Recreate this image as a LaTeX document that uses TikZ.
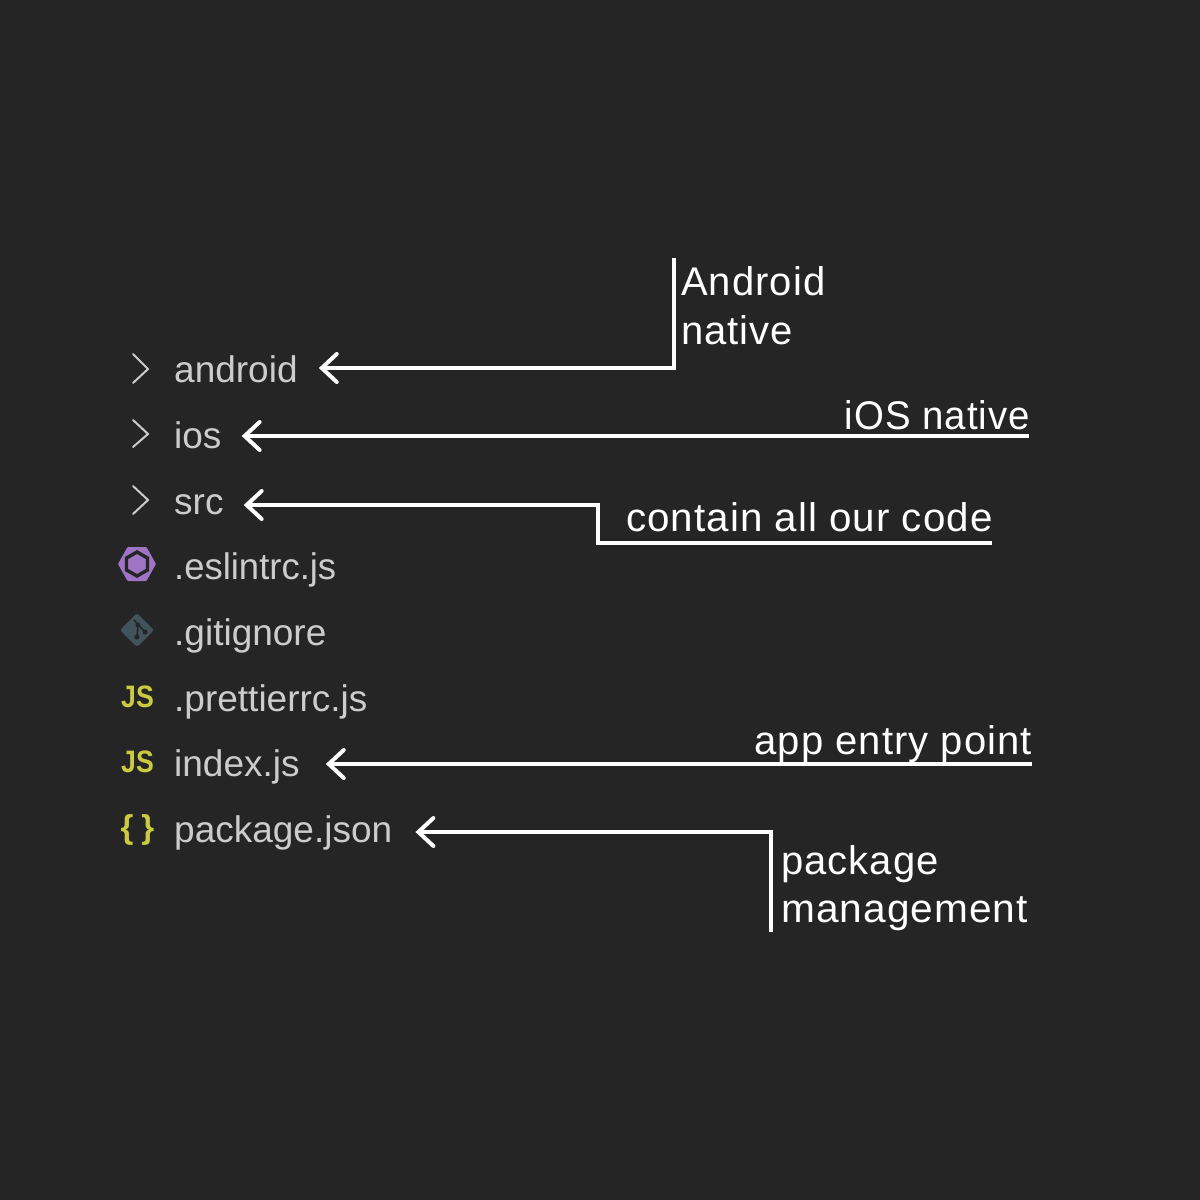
\documentclass[tikz,border=0pt]{standalone}
\usepackage{fontspec}
\setmainfont{Liberation Sans}
\newfontfamily\notefont[LetterSpace=2.6]{Liberation Sans}
\usetikzlibrary{arrows.meta}
\definecolor{bg}{HTML}{252526}
\definecolor{listgray}{HTML}{CCCCCC}
\definecolor{jsyellow}{HTML}{CBCB41}
\definecolor{eslint}{HTML}{A074C4}
\definecolor{gitblue}{HTML}{41535B}
\tikzset{
  filelabel/.style={anchor=base west,inner sep=0pt,text=listgray,font=\fontsize{37}{37}\selectfont},
  note/.style={inner sep=0pt,text=white,font=\notefont\fontsize{40}{40}\selectfont},
  link/.style={draw=white,line width=4pt,{Straight Barb[length=15pt,width=28pt,line cap=round,line width=4pt]}-},
  chevron/.style={draw=listgray,line width=2pt,line cap=round,line join=miter},
  jsicon/.style={inner sep=0pt,anchor=base,text=jsyellow,font=\fontsize{31}{31}\bfseries\selectfont},
}
\begin{document}
\begin{tikzpicture}[x=1pt,y=-1pt]
\useasboundingbox (0,0) rectangle (1200,1200);
\fill[bg] (0,0) rectangle (1200,1200);

% chevrons
\draw[chevron] (133,354) -- (148,369) -- (133,383);
\draw[chevron] (133,420) -- (148,434) -- (133,447);
\draw[chevron] (133,486) -- (148,500) -- (133,514);

% eslint icon
\fill[eslint,rounded corners=1pt] (118,564) -- (127.5,547) -- (146.5,547) -- (156,564) -- (146.5,581) -- (127.5,581) -- cycle;
\draw[bg,line width=3.4pt,fill=eslint] (137,552) -- (147.5,558) -- (147.5,570) -- (137,576) -- (126.5,570) -- (126.5,558) -- cycle;

% git icon
\fill[gitblue,rounded corners=2.5pt] (137,613) -- (154,630) -- (137,647) -- (120,630) -- cycle;
\draw[bg,line width=1.6pt] (134,620) -- (145,632);
\draw[bg,line width=1.6pt] (138,625) -- (137,637);
\fill[bg] (145,632) circle (2.6pt) (137,637) circle (2.6pt) (138,625) circle (2.4pt);

% file labels
\node[filelabel] (android) at (174,382) {android};
\node[filelabel] (ios) at (174,448) {ios};
\node[filelabel] (src) at (174,514) {src};
\node[filelabel,xscale=.985] (eslintrc) at (174,579.5) {.eslintrc.js};
\node[filelabel] (gitignore) at (174,645.5) {.gitignore};
\node[filelabel] (prettierrc) at (174,711.5) {.prettierrc.js};
\node[filelabel] (index) at (174,776) {index.js};
\node[filelabel] (package) at (174,842) {package.json};

% yellow icons
\node[jsicon,xscale=.86] (js1) at (137.5,707) {JS};
\node[jsicon,xscale=.86] (js2) at (137.5,772) {JS};
\node[jsicon,font=\fontsize{33}{33}\selectfont\bfseries] (json) at (137.5,838) {\{\hspace{8pt}\}};

% annotations
\node[note,anchor=base west] (n1a) at (681,295) {Android};
\node[note,anchor=base west] (n1b) at (681,344) {native};
\node[note,anchor=base east,xscale=.96] (n2) at (1030,429) {iOS native};
\node[note,anchor=base west,xscale=1.008] (n3) at (626,531) {contain all our code};
\node[note,anchor=base east] (n4) at (1032,754) {app entry point};
\node[note,anchor=base west] (n5a) at (781,874) {package};
\node[note,anchor=base west,xscale=1.016] (n5b) at (781,922) {management};

% connector bends and free ends
\coordinate (c1t) at (674,258);
\coordinate (c1m) at (674,368);
\coordinate (c2e) at (1029,436);
\coordinate (c3e) at (992,543);
\coordinate (c3b) at (598,543);
\coordinate (c3m) at (598,505);
\coordinate (c4e) at (1032,764);
\coordinate (c5b) at (771,932);
\coordinate (c5m) at (771,832);

% connectors, ending a gap to the right of each file label
\draw[link] ([xshift=21pt]android.east |- c1m) -- (c1m) -- (c1t);
\draw[link] ([xshift=20pt]ios.east |- c2e) -- (c2e);
\draw[link] ([xshift=20pt]src.east |- c3m) -- (c3m) -- (c3b) -- (c3e);
\draw[link] ([xshift=26pt]index.east |- c4e) -- (c4e);
\draw[link] ([xshift=23pt]package.east |- c5m) -- (c5m) -- (c5b);
\end{tikzpicture}
\end{document}
